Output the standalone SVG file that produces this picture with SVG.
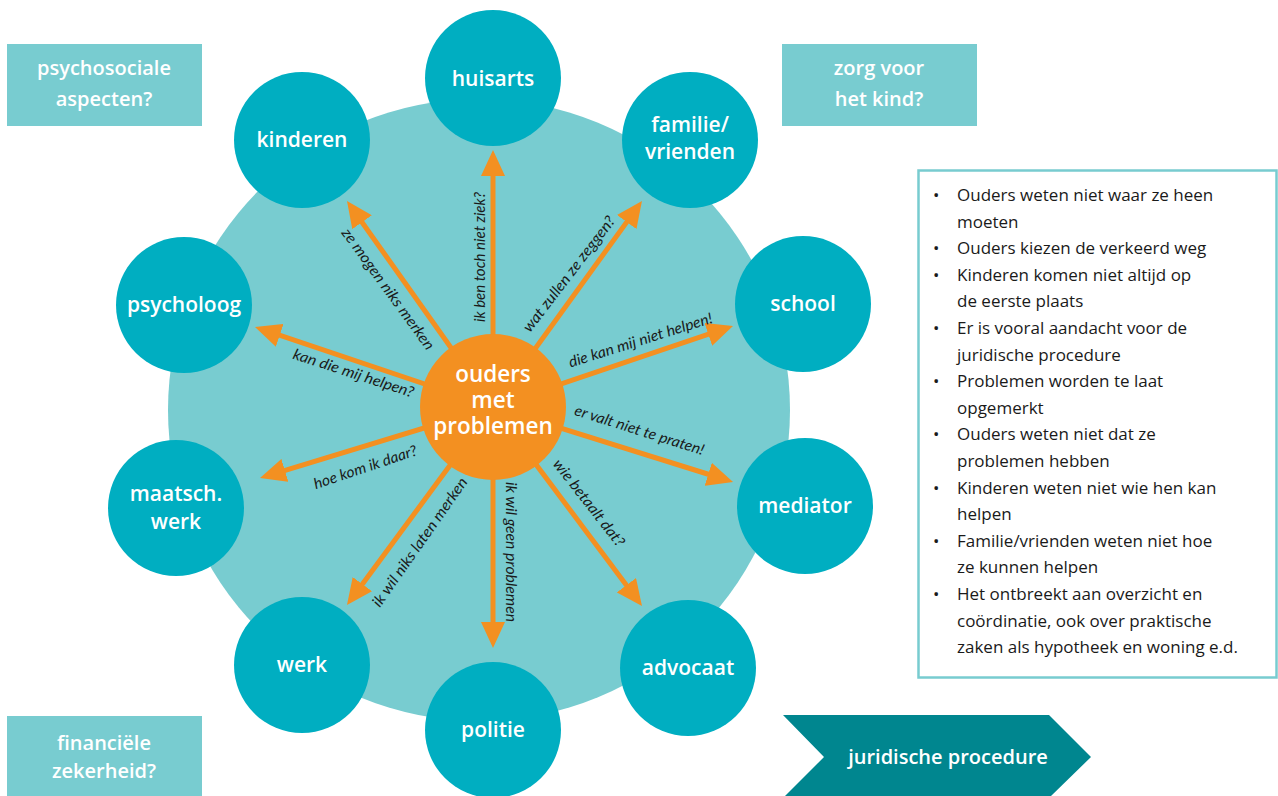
<svg xmlns="http://www.w3.org/2000/svg" width="1278" height="796" viewBox="0 0 1278 796">
<style>
.bg{fill:#ffffff}
.big{fill:#78CCD0}
.sat{fill:#00AEC1}
.ctr{fill:#F39021}
.box{fill:#78CCD0}
.nl{font-family:"Open Sans","Noto Sans",sans-serif;font-weight:600;font-size:21px;fill:#ffffff;text-anchor:middle}
.cl{font-family:"Open Sans","Noto Sans",sans-serif;font-weight:600;font-size:22.5px;fill:#ffffff;text-anchor:middle}
.bl{font-family:"Open Sans","Noto Sans",sans-serif;font-weight:600;font-size:20px;fill:#ffffff;text-anchor:middle}
.lab{font-family:Lato,"Open Sans",sans-serif;font-style:italic;font-size:15px;fill:#1a1a1a;text-anchor:middle}
.arr{stroke:#F39021;stroke-width:5;fill:none;marker-end:url(#ah)}
.li{font-family:"Open Sans","Noto Sans",sans-serif;font-size:17px;fill:#1a1a1a}
</style>
<defs>
<marker id="ah" markerUnits="userSpaceOnUse" markerWidth="26" markerHeight="24" refX="16" refY="12" orient="auto" viewBox="0 0 26 24">
<path d="M0,0 L26,12 L0,24 z" fill="#F39021"/>
</marker>
</defs>
<rect class="bg" x="0" y="0" width="1278" height="796"/>
<g id="background-circle"><circle class="big" cx="479" cy="410" r="311"/></g>
<g id="corner-psychosociale"><rect class="box" x="7" y="44" width="195" height="82"/><text class="bl" x="104" y="75">psychosociale</text><text class="bl" x="104" y="106">aspecten?</text></g>
<g id="corner-zorg"><rect class="box" x="782" y="44" width="195" height="82"/><text class="bl" x="879" y="75">zorg voor</text><text class="bl" x="879" y="106">het kind?</text></g>
<g id="corner-financieel"><rect class="box" x="7" y="716" width="195" height="80"/><text class="bl" x="104" y="750">financiële</text><text class="bl" x="104" y="778">zekerheid?</text></g>
<g id="connectors">
<path class="arr" d="M493,407 L493,160"/>
<path class="arr" d="M493,407 L636.1,209.1"/>
<path class="arr" d="M493,407 L723.5,329.2"/>
<path class="arr" d="M493,407 L723.5,479"/>
<path class="arr" d="M493,407 L636,598"/>
<path class="arr" d="M493,407 L493,638"/>
<path class="arr" d="M493,407 L352.9,597"/>
<path class="arr" d="M493,407 L269.6,475.1"/>
<path class="arr" d="M493,407 L264.5,330.2"/>
<path class="arr" d="M493,407 L352.8,209.2"/>
<text class="lab" transform="translate(485,257) rotate(-90)" textLength="130" lengthAdjust="spacingAndGlyphs">ik ben toch niet ziek?</text>
<text class="lab" transform="translate(384,292) rotate(54)" textLength="146" lengthAdjust="spacingAndGlyphs">ze mogen niks merken</text>
<text class="lab" transform="translate(573,277) rotate(-52.5)" textLength="141" lengthAdjust="spacingAndGlyphs">wat zullen ze zeggen?</text>
<text class="lab" transform="translate(642,345) rotate(-17.5)" textLength="150" lengthAdjust="spacingAndGlyphs">die kan mij niet helpen!</text>
<text class="lab" transform="translate(638,435) rotate(17.5)" textLength="135" lengthAdjust="spacingAndGlyphs">er valt niet te praten!</text>
<text class="lab" transform="translate(585,506) rotate(52)" textLength="106" lengthAdjust="spacingAndGlyphs">wie betaalt dat?</text>
<text class="lab" transform="translate(506,552) rotate(90)" textLength="140" lengthAdjust="spacingAndGlyphs">ik wil geen problemen</text>
<text class="lab" transform="translate(424,545) rotate(-55)" textLength="154" lengthAdjust="spacingAndGlyphs">ik wil niks laten merken</text>
<text class="lab" transform="translate(367,472) rotate(-18.5)" textLength="108" lengthAdjust="spacingAndGlyphs">hoe kom ik daar?</text>
<text class="lab" transform="translate(352,378) rotate(18)" textLength="126" lengthAdjust="spacingAndGlyphs">kan die mij helpen?</text>
</g>
<g id="center"><circle class="ctr" cx="493" cy="407" r="73"/><text class="cl" x="493" y="382">ouders</text><text class="cl" x="493" y="408">met</text><text class="cl" x="493" y="434">problemen</text></g>
<g id="huisarts"><circle class="sat" cx="493" cy="78" r="68"/><text class="nl" x="493" y="86">huisarts</text></g>
<g id="familie"><circle class="sat" cx="690" cy="140" r="68"/><text class="nl" x="690" y="132">familie/</text><text class="nl" x="690" y="159">vrienden</text></g>
<g id="school"><circle class="sat" cx="803" cy="304" r="68"/><text class="nl" x="803" y="311">school</text></g>
<g id="mediator"><circle class="sat" cx="805" cy="506" r="68"/><text class="nl" x="805" y="513">mediator</text></g>
<g id="advocaat"><circle class="sat" cx="688" cy="668" r="68"/><text class="nl" x="688" y="675">advocaat</text></g>
<g id="politie"><circle class="sat" cx="493" cy="730" r="68"/><text class="nl" x="493" y="737">politie</text></g>
<g id="werk"><circle class="sat" cx="302" cy="665" r="68"/><text class="nl" x="302" y="672">werk</text></g>
<g id="maatsch"><circle class="sat" cx="176" cy="508" r="68"/><text class="nl" x="176" y="501">maatsch.</text><text class="nl" x="176" y="529">werk</text></g>
<g id="psycholoog"><circle class="sat" cx="184" cy="305" r="68"/><text class="nl" x="184" y="312">psycholoog</text></g>
<g id="kinderen"><circle class="sat" cx="302" cy="140" r="68"/><text class="nl" x="302" y="147">kinderen</text></g>
<g id="bullet-box">
<rect x="918.5" y="170.5" width="358" height="507" fill="#ffffff" stroke="#78CCD0" stroke-width="2.5"/>
<text class="li" x="933" y="201">•</text><text class="li" x="957" y="201">Ouders weten niet waar ze heen</text>
<text class="li" x="957" y="227.6">moeten</text>
<text class="li" x="933" y="254.2">•</text><text class="li" x="957" y="254.2">Ouders kiezen de verkeerd weg</text>
<text class="li" x="933" y="280.8">•</text><text class="li" x="957" y="280.8">Kinderen komen niet altijd op</text>
<text class="li" x="957" y="307.4">de eerste plaats</text>
<text class="li" x="933" y="334">•</text><text class="li" x="957" y="334">Er is vooral aandacht voor de</text>
<text class="li" x="957" y="360.6">juridische procedure</text>
<text class="li" x="933" y="387.2">•</text><text class="li" x="957" y="387.2">Problemen worden te laat</text>
<text class="li" x="957" y="413.8">opgemerkt</text>
<text class="li" x="933" y="440.4">•</text><text class="li" x="957" y="440.4">Ouders weten niet dat ze</text>
<text class="li" x="957" y="467">problemen hebben</text>
<text class="li" x="933" y="493.6">•</text><text class="li" x="957" y="493.6">Kinderen weten niet wie hen kan</text>
<text class="li" x="957" y="520.2">helpen</text>
<text class="li" x="933" y="546.8">•</text><text class="li" x="957" y="546.8">Familie/vrienden weten niet hoe</text>
<text class="li" x="957" y="573.4">ze kunnen helpen</text>
<text class="li" x="933" y="600">•</text><text class="li" x="957" y="600">Het ontbreekt aan overzicht en</text>
<text class="li" x="957" y="626.6">coördinatie, ook over praktische</text>
<text class="li" x="957" y="653.2">zaken als hypotheek en woning e.d.</text>
</g>
<g id="juridische-procedure">
<polygon points="783,715 1049,715 1091,757 1051,796 785,796 824,757" fill="#00868F"/>
<text class="bl" x="948" y="764">juridische procedure</text>
</g>
</svg>
